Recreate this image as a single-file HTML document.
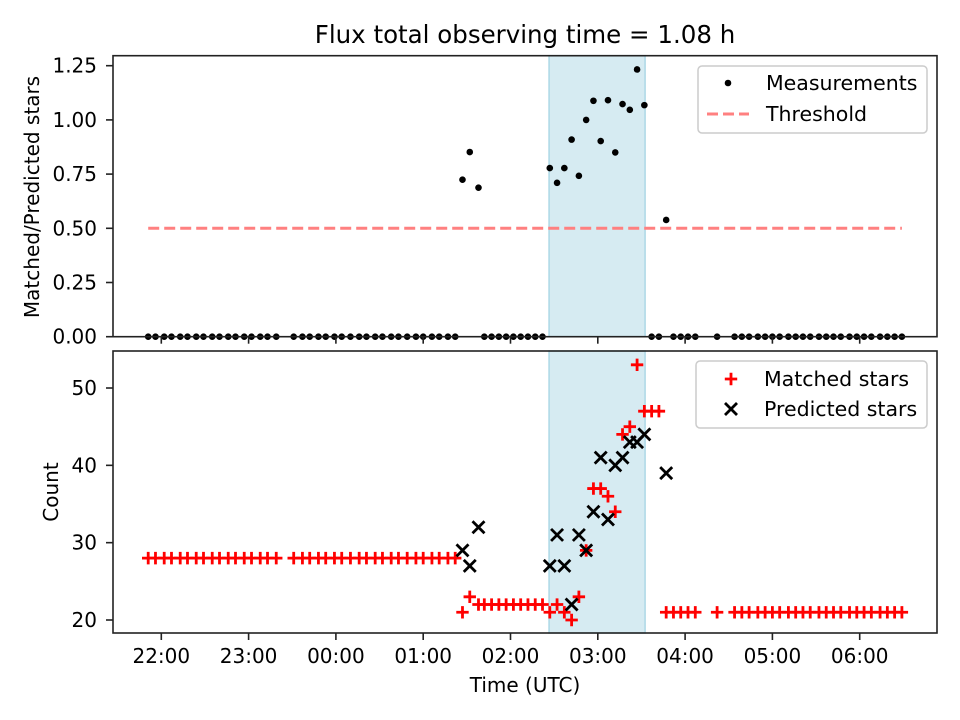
<!DOCTYPE html>
<html><head><meta charset="utf-8">
<style>
html,body{margin:0;padding:0;background:#fff;}
svg{display:block;font-family:"DejaVu Sans","Liberation Sans",sans-serif;}
</style></head>
<body>
<svg id="chart" width="960" height="720" viewBox="0 0 960 720" xmlns="http://www.w3.org/2000/svg"></svg>
<script>
// minutes since 22:00 UTC
const times = [-9,-4,2,7,13,18,24,29,35,40,46,51,57,62,68,73,79,
 91,97,102,108,113,119,124,130,136,141,147,152,158,163,169,175,180,186,191,197,202,
 207,212,218,
 222,227,232,237,242,247,252,257,262,
 267,272,277,282,287,292,297,302,307,312,317,322,327,332,
 337,342,347,352,357,362,367,382,
 394,399,404,410,415,420,425,431,436,441,446,452,457,462,467,473,478,483,488,494,499,504,509];
const matched = [28,28,28,28,28,28,28,28,28,28,28,28,28,28,28,28,28,
 28,28,28,28,28,28,28,28,28,28,28,28,28,28,28,28,28,28,28,28,28,
 21,23,22,
 22,22,22,22,22,22,22,22,22,
 21,22,21,20,23,29,37,37,36,34,44,45,53,47,
 47,47,21,21,21,21,21,21,
 21,21,21,21,21,21,21,21,21,21,21,21,21,21,21,21,21,21,21,21,21,21,21];
const predicted = [null,null,null,null,null,null,null,null,null,null,null,null,null,null,null,null,null,
 null,null,null,null,null,null,null,null,null,null,null,null,null,null,null,null,null,null,null,null,null,
 29,27,32,
 null,null,null,null,null,null,null,null,null,
 27,31,27,22,31,29,34,41,33,40,41,43,43,44,
 null,null,39,null,null,null,null,null,
 null,null,null,null,null,null,null,null,null,null,null,null,null,null,null,null,null,null,null,null,null,null,null];
const threshold = 0.5;
const shadeRange = [266.5, 332.5];
const xTickLabels = ["22:00","23:00","00:00","01:00","02:00","03:00","04:00","05:00","06:00"];
const xTickMinutes = [0,60,120,180,240,300,360,420,480];
const topTicks = [0,0.25,0.5,0.75,1.0,1.25];
const botTicks = [20,30,40,50];

const NS="http://www.w3.org/2000/svg";
const svg=document.getElementById('chart');
function mk(tag,attrs,parent){const e=document.createElementNS(NS,tag);for(const k in attrs)e.setAttribute(k,attrs[k]);(parent||svg).appendChild(e);return e;}
const L=113,R=937;
const T1=55.7,B1=336.7,T2=351,B2=633;
const xs=m=>161.3+m*1.455;
const y1=v=>336.7-v*216.8;
const y2=v=>620-(v-20)*7.733;
const ratio=times.map((t,i)=>predicted[i]==null?0:matched[i]/predicted[i]);

// title
let t=mk('text',{x:525,y:43,'text-anchor':'middle','font-size':24.5,fill:'#000'});t.textContent='Flux total observing time = 1.08 h';



function panel(top,bot,name){
  const g=mk('g',{});
  
  
  const sh=mk('rect',{x:xs(shadeRange[0]),y:top,width:xs(shadeRange[1])-xs(shadeRange[0]),height:bot-top,fill:'#add8e6','fill-opacity':0.5,stroke:'#add8e6','stroke-width':1.5},g);
  
  
  return g;
}
function frame(g,top,bot){
  mk('rect',{x:L,y:top,width:R-L,height:bot-top,fill:'none',stroke:'#222','stroke-width':1.6},g);
  xTickMinutes.forEach(m=>{mk('line',{x1:xs(m),x2:xs(m),y1:bot,y2:bot+7,stroke:'#222','stroke-width':1.6},g);});
}

// top panel
const g1=panel(T1,B1,'ratio-panel');
const th=mk('line',{x1:xs(times[0]),x2:xs(times[times.length-1]),y1:y1(threshold),y2:y1(threshold),stroke:'#ff8080','stroke-width':3,'stroke-dasharray':'11,5'},g1);


times.forEach((m,i)=>{
  const c=mk('circle',{cx:xs(m),cy:y1(ratio[i]),r:3.3,fill:'#000'},g1);
  
  
});
frame(g1,T1,B1);
topTicks.forEach(v=>{
  mk('line',{x1:L-7,x2:L,y1:y1(v),y2:y1(v),stroke:'#222','stroke-width':1.6},g1);
  const tx=mk('text',{x:L-16,y:y1(v)+7,'text-anchor':'end','font-size':20},g1);tx.textContent=v.toFixed(2);
  
  
});
let yl=mk('text',{transform:'translate(39,197) rotate(-90)','text-anchor':'middle','font-size':20});yl.textContent='Matched/Predicted stars';



// bottom panel
const g2=panel(T2,B2,'count-panel');
function plus(x,y,g){const p=mk('path',{d:`M${x-6.2},${y}H${x+6.2}M${x},${y-6.2}V${y+6.2}`,stroke:'#ff0000','stroke-width':2.8,fill:'none'},g);return p;}
function cross(x,y,g){const p=mk('path',{d:`M${x-6},${y-6}L${x+6},${y+6}M${x-6},${y+6}L${x+6},${y-6}`,stroke:'#000','stroke-width':2.8,fill:'none'},g);return p;}
times.forEach((m,i)=>{
  const p=plus(xs(m),y2(matched[i]),g2);
  
  
});
times.forEach((m,i)=>{
  if(predicted[i]==null)return;
  const p=cross(xs(m),y2(predicted[i]),g2);
  
  
});
frame(g2,T2,B2);
botTicks.forEach(v=>{
  mk('line',{x1:L-7,x2:L,y1:y2(v),y2:y2(v),stroke:'#222','stroke-width':1.6},g2);
  const tx=mk('text',{x:L-16,y:y2(v)+7,'text-anchor':'end','font-size':20},g2);tx.textContent=v;
  
  
});
xTickMinutes.forEach((m,i)=>{
  const tx=mk('text',{x:xs(m),y:663,'text-anchor':'middle','font-size':20});tx.textContent=xTickLabels[i];
  
  
});
let yl2=mk('text',{transform:'translate(58,492) rotate(-90)','text-anchor':'middle','font-size':20});yl2.textContent='Count';


let xl=mk('text',{x:525,y:692,'text-anchor':'middle','font-size':20});xl.textContent='Time (UTC)';



// legends
const lg1=mk('g',{});


mk('rect',{x:698,y:66,width:229,height:67,rx:4,fill:'#fff','fill-opacity':0.8,stroke:'#ccc','stroke-width':1.5},lg1);
mk('circle',{cx:728,cy:83,r:3.3,fill:'#000'},lg1);
mk('line',{x1:707,x2:749,y1:114,y2:114,stroke:'#ff8080','stroke-width':3,'stroke-dasharray':'11,5'},lg1);
let a=mk('text',{x:766,y:90,'font-size':20.5},lg1);a.textContent='Measurements';


a=mk('text',{x:766,y:121,'font-size':20.5},lg1);a.textContent='Threshold';



const lg2=mk('g',{});


mk('rect',{x:696,y:361,width:231,height:67,rx:4,fill:'#fff','fill-opacity':0.8,stroke:'#ccc','stroke-width':1.5},lg2);
plus(731,379,lg2);
cross(731,409,lg2);
a=mk('text',{x:764,y:386,'font-size':20.5},lg2);a.textContent='Matched stars';


a=mk('text',{x:764,y:416,'font-size':20.5},lg2);a.textContent='Predicted stars';


</script>
</body></html>
